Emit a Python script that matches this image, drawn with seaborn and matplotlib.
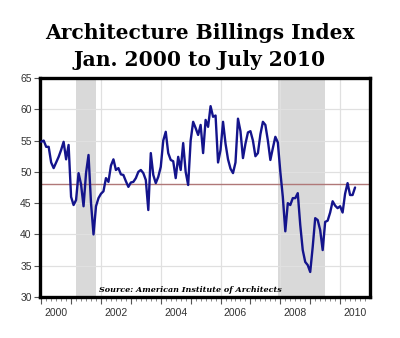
import numpy as np
import pandas as pd
import matplotlib
matplotlib.use("Agg")
import matplotlib.pyplot as plt
import seaborn as sns

# Monthly Architecture Billings Index values, Jan 2000 - Jul 2010
abi_2000 = [54.8, 55.0, 54.0, 54.0, 51.5, 50.6, 51.5, 52.4, 53.5, 54.8, 52.0, 54.3]
abi_2001 = [46.0, 44.7, 45.5, 49.8, 48.0, 44.5, 49.8, 52.7, 45.0, 40.0, 44.5, 45.8]
abi_2002 = [46.5, 46.9, 49.0, 48.4, 51.0, 52.0, 50.3, 50.6, 49.6, 49.5, 48.5, 47.6]
abi_2003 = [48.3, 48.4, 49.0, 50.0, 50.3, 49.8, 48.7, 43.9, 53.0, 49.5, 48.2, 49.2]
abi_2004 = [50.8, 55.0, 56.4, 53.0, 51.9, 51.7, 49.0, 52.4, 50.3, 54.6, 50.0, 47.9]
abi_2005 = [55.0, 58.0, 57.0, 55.9, 57.5, 53.0, 58.3, 57.2, 60.5, 58.8, 59.0, 51.5]
abi_2006 = [53.5, 58.0, 54.5, 52.0, 50.5, 49.8, 51.5, 58.5, 56.5, 52.2, 54.5, 56.3]
abi_2007 = [56.5, 55.0, 52.5, 53.0, 56.0, 58.0, 57.5, 55.0, 51.9, 53.8, 55.6, 54.7]
abi_2008 = [50.0, 46.0, 40.5, 45.0, 44.7, 45.8, 45.8, 46.6, 41.5, 37.5, 35.6, 35.1]
abi_2009 = [34.0, 38.0, 42.6, 42.3, 40.7, 37.5, 42.0, 42.2, 43.5, 45.3, 44.6, 44.2]
abi_2010 = [44.5, 43.5, 46.5, 48.2, 46.3, 46.3, 47.5]

# Recession periods (decimal years) and the reference level
recessions = [(2001 + 2 / 12, 2001 + 10 / 12), (2007 + 11 / 12, 2009 + 6 / 12)]
reference_level = 48
year_labels = ["2000", "2002", "2004", "2006", "2008", "2010"]

values = (abi_2000 + abi_2001 + abi_2002 + abi_2003 + abi_2004 + abi_2005
          + abi_2006 + abi_2007 + abi_2008 + abi_2009 + abi_2010)
df = pd.DataFrame({"date": 2000 + np.arange(len(values)) / 12, "abi": values})

sns.set_theme(style="white")
plt.rcParams["font.family"] = ["Liberation Sans", "DejaVu Sans"]

fig = plt.figure(figsize=(4.0, 3.38), dpi=100)
ax = fig.add_axes([40 / 400, 41 / 338, 330 / 400, 219 / 338])

for start, end in recessions:
    ax.axvspan(start, end, color="#d9d9d9", lw=0, zorder=0)

ax.axhline(reference_level, color="#b07878", lw=1.0, zorder=2)

sns.lineplot(data=df, x="date", y="abi", ax=ax, color="#14148c", lw=1.7, zorder=3)

ax.set_xlim(1999.96, 2011.0)
ax.set_ylim(30, 65)
ax.set_yticks(np.arange(30, 66, 5))
ax.set_xticks(np.arange(2000, 2011, 1))
ax.set_xticks(np.arange(2000, 2011, 1 / 6), minor=True)
ax.set_xticklabels([])
ax.set_xlabel("")
ax.set_ylabel("")

# grid: horizontal every 5, vertical at even years
for y in np.arange(35, 65, 5):
    ax.axhline(y, color="#e0e0e0", lw=0.9, zorder=1)
for x in range(2002, 2011, 2):
    ax.axvline(x, color="#e0e0e0", lw=0.9, zorder=1)

ax.tick_params(axis="y", which="major", left=True, length=4, width=0.8,
               color="#555555", labelsize=7.5, labelcolor="#333333", pad=2)
ax.tick_params(axis="x", which="major", bottom=True, length=5, width=0.8,
               color="#555555")
ax.tick_params(axis="x", which="minor", bottom=True, length=3, width=0.6,
               color="#777777")

for lbl in year_labels:
    ax.text(int(lbl) + 0.5, -0.075, lbl, transform=ax.get_xaxis_transform(),
            ha="center", va="center", fontsize=7.5, color="#333333")

for side in ["left", "right", "top", "bottom"]:
    ax.spines[side].set_visible(True)
    ax.spines[side].set_color("black")
    ax.spines[side].set_linewidth(2.4)

ax.text(0.18, 0.03, "Source: American Institute of Architects",
        transform=ax.transAxes, ha="left", va="center", fontsize=5.8,
        fontweight="bold", fontstyle="italic", family="DejaVu Serif",
        color="black")

fig.text(0.5, 1 - 33 / 338, "Architecture Billings Index", ha="center",
         va="center", fontsize=14.6, fontweight="bold", family="DejaVu Serif",
         color="black")
fig.text(0.5, 1 - 60 / 338, "Jan. 2000 to July 2010", ha="center",
         va="center", fontsize=14.6, fontweight="bold", family="DejaVu Serif",
         color="black")

fig.savefig("out.png", dpi=100, facecolor="white")
